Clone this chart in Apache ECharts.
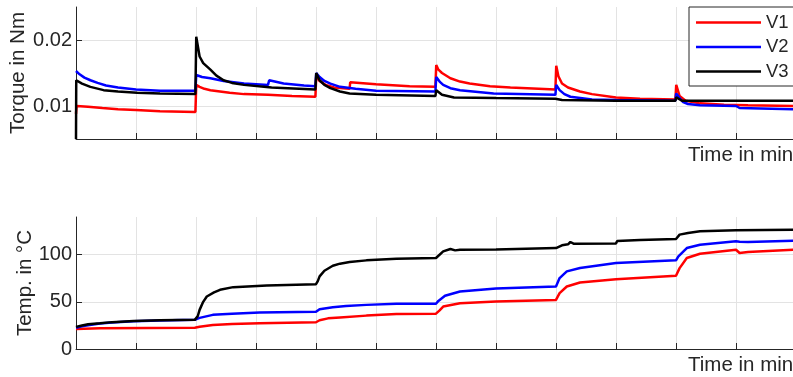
<!DOCTYPE html>
<html>
<head>
<meta charset="utf-8">
<script src="https://cdn.jsdelivr.net/npm/echarts@6/dist/echarts.min.js"></script>
<style>
html,body{margin:0;padding:0;background:#fff;}
#chart{width:793px;height:377px;}
</style>
</head>
<body>
<div id="chart"></div>
<script>
// ---- Data (time in min, value) ----
const seriesNames = ['V1', 'V2', 'V3'];
const seriesColors = ['#ff0000', '#0000ff', '#000000'];

const torqueTicks = [0.01, 0.02];
const tempTicks = [0, 50, 100];

const torqueV1 = [
  [0,0.0088],[0.05,0.0100],[1,0.0099],[2.2,0.0097],[3.5,0.0095],[5,0.0094],[7,0.0092],[9.95,0.0091],
  [10.02,0.0132],[10.3,0.0129],[10.7,0.0126],[11.2,0.0124],[12,0.0122],[12.8,0.0120],[14,0.0118],[16,0.0117],[18,0.0115],[19.95,0.0114],
  [20.02,0.0145],[20.3,0.0138],[20.8,0.0132],[21.5,0.0128],[22.8,0.0126],[22.85,0.0136],[25,0.0133],[27.8,0.0130],[29.95,0.0129],
  [30.02,0.0162],[30.2,0.0155],[30.5,0.0150],[31.2,0.0142],[32,0.0137],[32.8,0.0134],[34.5,0.0130],[36.2,0.0128],[39.95,0.0125],
  [40.02,0.0161],[40.2,0.0145],[40.5,0.0134],[41,0.0128],[42,0.0122],[43,0.0118],[45,0.0113],[47,0.0111],[49.95,0.0110],
  [50.02,0.0132],[50.3,0.0115],[50.8,0.0108],[52,0.0104],[54,0.0102],[56,0.0101],[60,0.0100]
];
const torqueV2 = [
  [0,0.0153],[0.3,0.0148],[0.7,0.0143],[1.2,0.0139],[1.8,0.0135],[2.5,0.0131],[3.5,0.0128],[5,0.0125],[7,0.0123],[9.95,0.0123],
  [10.02,0.0147],[10.5,0.0144],[11.2,0.0142],[12.3,0.0138],[14,0.0134],[16,0.0132],[16.1,0.0139],[17.3,0.0134],[19,0.0131],[19.95,0.0130],
  [20.02,0.0150],[20.3,0.0144],[20.7,0.0138],[21.2,0.0134],[22,0.0129],[23.3,0.0126],[25,0.0123],[29.95,0.0122],
  [30.02,0.0144],[30.3,0.0137],[30.6,0.0132],[31.2,0.0127],[32,0.0124],[34.8,0.0119],[39.95,0.0117],
  [40.02,0.0132],[40.3,0.0124],[40.7,0.0118],[41.2,0.0114],[43,0.0110],[45,0.0109],[49.95,0.0108],
  [50.02,0.0119],[50.3,0.0112],[50.6,0.0106],[51,0.0103],[52,0.0101],[55,0.0100],[55.3,0.0097],[60,0.0095]
];
const torqueV3 = [
  [0,0.0050],[0.02,0.0139],[0.5,0.0134],[1.2,0.0129],[2.3,0.0124],[3.5,0.0122],[5.1,0.0120],[7,0.0119],[9.95,0.0118],
  [10.02,0.0205],[10.3,0.0175],[10.6,0.0165],[11.2,0.0155],[11.7,0.0146],[12.3,0.0139],[13,0.0135],[14,0.0132],[16.3,0.0128],[19.95,0.0125],
  [20.02,0.0150],[20.3,0.0139],[20.7,0.0132],[21.2,0.0127],[22,0.0122],[22.8,0.0119],[25,0.0117],[29.95,0.0115],
  [30.02,0.0124],[30.5,0.0117],[31.5,0.0113],[35,0.0112],[39.95,0.0111],
  [40.02,0.0114],[40.5,0.0109],[45,0.0108],[49.95,0.0108],
  [50.02,0.0113],[50.5,0.0108],[55,0.0108],[60,0.0108]
];

const tempV1 = [
  [0,21.2],[2,22],[9.9,22.5],[10.3,23.5],[11.4,25.5],[13,26.5],[15.3,27.3],[20,28.4],
  [20.3,30.5],[21,32.5],[22,33.5],[24.2,35.4],[26.7,37.2],[30,37.5],
  [30.3,41],[30.6,45],[32,48.6],[35,50.4],[40,52.1],
  [40.3,59.2],[40.9,66.3],[42,70.6],[45,74.1],[50,77.7],
  [50.3,85.8],[50.9,96.5],[52,101],[55,105.3],[55.3,101.8],[56,102.8],[60,105.3]
];
const tempV2 = [
  [0,22.5],[0.5,24],[1,25.2],[2,27],[3,28.2],[4.8,29.5],[7,30.3],[9.9,31],
  [10.3,33],[11.4,36.2],[13,37.5],[15.3,38.7],[20,39.4],
  [20.3,42.2],[21.4,44.3],[22.5,45.5],[24.2,46.8],[26.7,47.9],[30,48],
  [30.2,51],[30.75,56.4],[32,61],[35,64.2],[40,66.3],
  [40.3,75.2],[40.9,82.3],[42,85.9],[45,91.1],[50,94],
  [50.2,98.2],[50.9,107.1],[52,110.6],[55,114.2],[55.1,115],[55.3,113.8],[56,113.5],[60,114.9]
];
const tempV3 = [
  [0,23.5],[0.5,25],[1,26.2],[2,27.3],[3,28.5],[4.8,29.8],[7,30.4],[9.9,30.9],
  [10.15,35],[10.3,41.5],[10.6,50],[10.9,55.7],[11.5,60],[12,62.8],[13.1,65.6],[15.9,67.4],[20,68.8],
  [20.15,72],[20.3,77],[20.7,83],[21.4,88.3],[22,90.5],[22.8,92.2],[24.2,94],[26.7,95.7],[30,96.5],
  [30.6,103.5],[31.2,106],[31.6,104.6],[32,105.3],[35,105.5],[40,107],
  [40.5,110],[41,111],[41.2,113.5],[41.5,111.5],[45,112],[45.1,114.5],[47,115.5],[50,116.7],
  [50.3,121.3],[51,123],[52,124.8],[55,125.9],[60,126.6]
];

const torqueData = [torqueV1, torqueV2, torqueV3];
const tempData = [tempV1, tempV2, tempV3];

// ---- Styles ----
const FONT = 'Liberation Sans, Arial, sans-serif';
const TXT = '#262626';
const GRIDC = '#e3e3e3';

function xAxisDef(gridIndex) {
  return {
    type: 'value', gridIndex: gridIndex, min: 0, max: 60, interval: 5,
    name: 'Time in min', nameLocation: 'end', nameGap: -108, nameMoveOverlap: false,
    nameTextStyle: { fontSize: 20.5, color: TXT, fontFamily: FONT, align: 'left', verticalAlign: 'top', padding: [6, 0, 0, 0] },
    axisLine: { show: true, lineStyle: { color: TXT, width: 1 } },
    axisTick: { show: true, inside: true, length: 6, lineStyle: { color: TXT } },
    axisLabel: { show: false },
    splitLine: { show: true, lineStyle: { color: GRIDC, width: 1 } }
  };
}

const chart = echarts.init(document.getElementById('chart'), null, { renderer: 'canvas' });

const series = [];
seriesNames.forEach((n, i) => {
  series.push({
    name: n, type: 'line', xAxisIndex: 0, yAxisIndex: 0, data: torqueData[i],
    showSymbol: false, symbol: 'none', lineStyle: { color: seriesColors[i], width: 2.5 },
    itemStyle: { color: seriesColors[i] }, z: 2 + i
  });
});
seriesNames.forEach((n, i) => {
  series.push({
    name: n, type: 'line', xAxisIndex: 1, yAxisIndex: 1, data: tempData[i],
    showSymbol: false, symbol: 'none', lineStyle: { color: seriesColors[i], width: 2.5 },
    itemStyle: { color: seriesColors[i] }, z: 2 + i
  });
});

chart.setOption({
  animation: false,
  backgroundColor: '#ffffff',
  textStyle: { fontFamily: FONT },
  grid: [
    { left: 76, top: 7, height: 132, right: -3, containLabel: false, outerBoundsMode: 'none' },
    { left: 76, top: 217, height: 132, right: -3, containLabel: false, outerBoundsMode: 'none' }
  ],
  xAxis: [xAxisDef(0), xAxisDef(1)],
  yAxis: [
    {
      type: 'value', gridIndex: 0, min: 0.005, max: 0.025,
      name: 'Torque in Nm', nameLocation: 'middle', nameGap: 47, nameMoveOverlap: false,
      nameTextStyle: { fontSize: 20.5, color: TXT, fontFamily: FONT },
      axisLine: { show: true, lineStyle: { color: TXT, width: 1 } },
      axisTick: { show: true, inside: true, length: 6, lineStyle: { color: TXT }, customValues: torqueTicks },
      axisLabel: { show: true, fontSize: 20, color: TXT, fontFamily: FONT, margin: 4, customValues: torqueTicks,
        formatter: v => v.toFixed(2) },
      splitLine: { show: true, lineStyle: { color: GRIDC, width: 1 } }
    },
    {
      type: 'value', gridIndex: 1, min: 0, max: 140,
      name: 'Temp. in °C', nameLocation: 'middle', nameGap: 40, nameMoveOverlap: false,
      nameTextStyle: { fontSize: 20.5, color: TXT, fontFamily: FONT },
      axisLine: { show: true, lineStyle: { color: TXT, width: 1 } },
      axisTick: { show: true, inside: true, length: 6, lineStyle: { color: TXT }, customValues: tempTicks },
      axisLabel: { show: true, fontSize: 20, color: TXT, fontFamily: FONT, margin: 4, customValues: tempTicks },
      splitLine: { show: true, lineStyle: { color: GRIDC, width: 1 } }
    }
  ],
  legend: {
    orient: 'vertical', left: 689, top: 7,
    data: seriesNames,
    icon: 'rect', itemWidth: 65, itemHeight: 2.5, itemGap: 5.5,
    padding: [6, 12, 5, 7],
    backgroundColor: '#ffffff', borderColor: TXT, borderWidth: 1, borderRadius: 0,
    textStyle: { fontSize: 18.5, color: TXT, fontFamily: FONT, padding: [0, 0, 0, 0] },
    selectedMode: false
  },
  series: series
});
</script>
</body>
</html>
